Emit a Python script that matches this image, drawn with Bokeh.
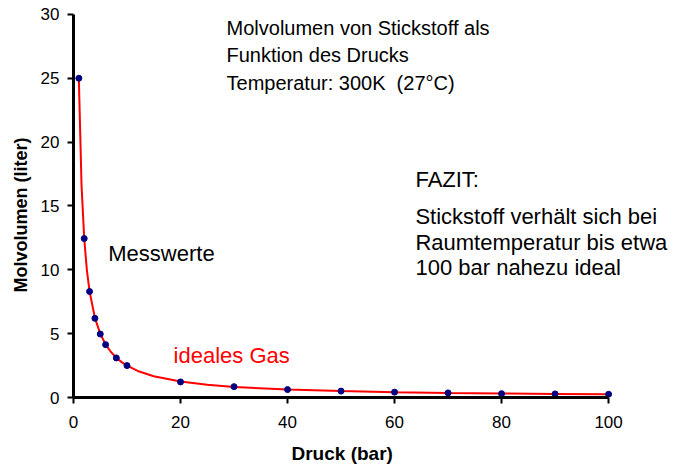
from bokeh.plotting import figure
from bokeh.models import Range1d, Label, FixedTicker, Title
from bokeh.embed import file_html
from bokeh.resources import INLINE

# Messwerte (measured)
druck_mess = [1, 2, 3, 4, 5, 6, 8, 10, 20, 30, 40, 50, 60, 70, 80, 90, 100]
vol_mess = [25.0, 12.45, 8.3, 6.2, 4.97, 4.14, 3.1, 2.5, 1.22, 0.85, 0.62, 0.5, 0.42, 0.36, 0.3, 0.28, 0.25]

# ideales Gas curve
druck_ideal = [1, 1.5, 2, 2.5, 3, 4, 5, 6, 7, 8, 9, 10, 12, 15, 20, 25, 30, 40, 50, 60, 70, 80, 90, 100]
vol_ideal = [24.94, 16.63, 12.47, 9.98, 8.31, 6.24, 4.99, 4.16, 3.56, 3.12, 2.77, 2.49, 2.08, 1.66,
             1.25, 1.0, 0.83, 0.62, 0.50, 0.42, 0.36, 0.31, 0.28, 0.25]

x_ticks = [0, 20, 40, 60, 80, 100]
y_ticks = [0, 5, 10, 15, 20, 25, 30]

FONT = "Liberation Sans"

# frame spans the full width/top so annotation texts are not clipped;
# axes are bounded to the data ranges 0..100 and 0..30
p = figure(width=683, height=473, output_backend="svg", toolbar_location=None,
           x_range=Range1d(0, 114.0), y_range=Range1d(0, 31.09),
           min_border_left=73, min_border_right=0, min_border_top=0, min_border_bottom=75)
p.outline_line_color = None
p.grid.visible = False
p.background_fill_color = "white"
p.border_fill_color = "white"

p.line(druck_ideal, vol_ideal, line_color="#FF0000", line_width=2)
p.scatter(druck_mess, vol_mess, size=6, fill_color="#000080", line_color="#000080")

for ax in (p.xaxis[0], p.yaxis[0]):
    ax.axis_line_width = 3
    ax.axis_line_color = "black"
    ax.major_tick_line_width = 2
    ax.major_tick_line_color = "black"
    ax.major_tick_out = 6
    ax.major_tick_in = 0
    ax.minor_tick_line_color = None
    ax.major_label_text_font = FONT
    ax.major_label_text_font_size = "17px"
    ax.major_label_text_color = "black"

p.xaxis[0].bounds = (0, 100)
p.yaxis[0].bounds = (0, 30)
p.xaxis[0].ticker = FixedTicker(ticks=x_ticks)
p.yaxis[0].ticker = FixedTicker(ticks=y_ticks)
p.xaxis[0].major_label_standoff = 12
p.yaxis[0].major_label_standoff = 8

# axis titles, positioned along the bounded axes (not the full frame)
p.add_layout(Title(text="Druck (bar)", align="left", offset=218, standoff=20,
                   text_font=FONT, text_font_size="19px", text_font_style="bold",
                   text_color="black"), "below")
p.add_layout(Title(text="Molvolumen (liter)", align="left", offset=105, standoff=13,
                   text_font=FONT, text_font_size="18px", text_font_style="bold",
                   text_color="black"), "left")

def add_text(x, y, t, size="20px", color="black"):
    p.add_layout(Label(x=x, y=y, text=t, text_font=FONT, text_font_size=size,
                       text_color=color, text_baseline="alphabetic", text_align="left"))

add_text(28.6, 28.9, "Molvolumen von Stickstoff als", "20px")
add_text(28.6, 26.8, "Funktion des Drucks", "20px")
add_text(28.6, 24.6, "Temperatur: 300K\u00a0 (27°C)", "20px")
add_text(6.5, 11.25, "Messwerte", "22px")
add_text(18.7, 3.3, "ideales Gas", "22px", "#FF0000")
add_text(63.9, 17.1, "FAZIT:", "22px")
add_text(63.9, 14.2, "Stickstoff verhält sich bei", "22px")
add_text(63.9, 12.1, "Raumtemperatur bis etwa", "22px")
add_text(63.9, 10.15, "100 bar nahezu ideal", "22px")

open("out.html", "w").write(file_html(p, INLINE))
